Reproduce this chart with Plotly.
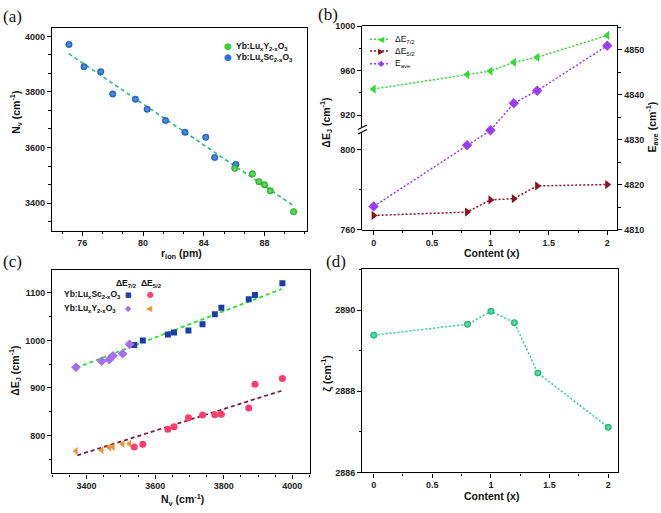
import plotly.graph_objects as go

W, H = 661, 513
def px(x): return x / W
def py(y): return 1 - y / H

# ---------------- data ----------------
# (a) Nv vs ionic radius
r_sc = [75.12, 76.11, 77.21, 78.0, 79.5, 80.27, 81.48, 82.76, 84.13, 84.72, 86.11]
nv_sc = [3971, 3891, 3873, 3793, 3774, 3738, 3697, 3655, 3637, 3564, 3539]
r_y = [89.92, 88.38, 88.0, 87.63, 87.21, 86.04]
nv_y = [3369, 3444, 3466, 3477, 3505, 3525]
fit_a_x = [75.1, 89.9]
fit_a_y = [3938, 3391]

# (b)/(d) vs content
content = [0, 0.8, 1.0, 1.2, 1.4, 2.0]
de72_y = [943.5, 956.5, 959.7, 967.6, 972.1, 991.8]
de52_y = [767.2, 768.9, 775.0, 775.6, 782.0, 782.7]
eave = [4815.2, 4828.8, 4832.1, 4838.1, 4840.9, 4850.9]
zeta = [2889.38, 2889.65, 2889.97, 2889.69, 2888.45, 2887.11]

# (c) ΔE vs Nv for Sc series (Nv ascending)
nv_sc_c = [3539, 3564, 3637, 3655, 3697, 3738, 3774, 3793, 3873, 3891, 3971]
de72_sc = [990.6, 1000.2, 1012.6, 1016.7, 1020.9, 1033.9, 1055.3, 1069.0, 1086.9, 1095.9, 1120.6]
de52_sc = [775.8, 781.4, 812.9, 818.5, 837.1, 843.3, 843.9, 844.7, 857.7, 907.9, 919.7]
fit72_x = [3370, 3969]
fit72_y = [942.5, 1108.5]
fit52_x = [3373, 3969]
fit52_y = [758.3, 894.3]

# ---------------- colours ----------------
C_GREEN_BALL = "#36d236"
C_BLUE_BALL = "#2d74d6"
C_FIT_A = "#2cc07c"
C_G = "#2fdc2f"
C_R = "#8b1020"
C_P = "#9a3cf2"
C_SQ = "#1b3fa6"
C_CIR = "#ff3d6e"
C_DIA = "#a76ef0"
C_TRI = "#e8983a"
C_FIT52 = "#7a1e4a"
C_TEAL = "#2ccf8e"

fig = go.Figure()

# ---- (a)
fig.add_trace(go.Scatter(x=fit_a_x, y=fit_a_y, mode="lines", xaxis="x", yaxis="y",
                         line=dict(color=C_FIT_A, width=1.6, dash="4px,3px"), showlegend=False))
fig.add_trace(go.Scatter(x=r_sc, y=nv_sc, mode="markers", xaxis="x", yaxis="y",
                         marker=dict(size=6.5, color="#1f5fc0", line=dict(width=0.4, color="#1a4a9a"),
                                     gradient=dict(type="radial", color="#5a9cf0")), showlegend=False))
fig.add_trace(go.Scatter(x=r_y, y=nv_y, mode="markers", xaxis="x", yaxis="y",
                         marker=dict(size=6.5, color="#27b827", line=dict(width=0.4, color="#1f8f1f"),
                                     gradient=dict(type="radial", color="#6fe86f")), showlegend=False))

# ---- (b)
fig.add_trace(go.Scatter(x=content, y=de72_y, mode="lines+markers", xaxis="x2", yaxis="y3",
                         line=dict(color=C_G, width=1.5, dash="2px,2px"),
                         marker=dict(symbol="triangle-left", size=8, color=C_G), showlegend=False))
fig.add_trace(go.Scatter(x=content, y=de52_y, mode="lines+markers", xaxis="x2", yaxis="y2",
                         line=dict(color=C_R, width=1.5, dash="2px,2px"),
                         marker=dict(symbol="triangle-right", size=8, color=C_R), showlegend=False))
fig.add_trace(go.Scatter(x=content, y=eave, mode="lines+markers", xaxis="x2", yaxis="y4",
                         line=dict(color=C_P, width=1.5, dash="2px,2px"),
                         marker=dict(symbol="diamond", size=8, color=C_P), showlegend=False))

# ---- (c)
fig.add_trace(go.Scatter(x=fit72_x, y=fit72_y, mode="lines", xaxis="x3", yaxis="y5",
                         line=dict(color=C_G, width=1.8, dash="4px,3px"), showlegend=False))
fig.add_trace(go.Scatter(x=fit52_x, y=fit52_y, mode="lines", xaxis="x3", yaxis="y5",
                         line=dict(color=C_FIT52, width=1.8, dash="4px,3px"), showlegend=False))
fig.add_trace(go.Scatter(x=nv_sc_c, y=de72_sc, mode="markers", xaxis="x3", yaxis="y5",
                         marker=dict(symbol="square", size=6, color=C_SQ), showlegend=False))
fig.add_trace(go.Scatter(x=nv_sc_c, y=de52_sc, mode="markers", xaxis="x3", yaxis="y5",
                         marker=dict(symbol="circle", size=7, color=C_CIR), showlegend=False))
fig.add_trace(go.Scatter(x=nv_y, y=de72_y, mode="markers", xaxis="x3", yaxis="y5",
                         marker=dict(symbol="diamond", size=7.5, color=C_DIA), showlegend=False))
fig.add_trace(go.Scatter(x=nv_y, y=de52_y, mode="markers", xaxis="x3", yaxis="y5",
                         marker=dict(symbol="triangle-left", size=7, color=C_TRI), showlegend=False))

# ---- (d)
fig.add_trace(go.Scatter(x=content, y=zeta, mode="lines+markers", xaxis="x4", yaxis="y6",
                         line=dict(color=C_TEAL, width=1.5, dash="2px,2px"),
                         marker=dict(size=6.5, color="#1fb878", line=dict(width=0.4, color="#1a9a66"),
                                     gradient=dict(type="radial", color="#6ee8b8")), showlegend=False))

TF = dict(family="Arial", size=9, color="#222", weight="bold")
def ax(**kw):
    d = dict(showline=True, linecolor="black", linewidth=1.3, ticks="outside", ticklen=4,
             tickwidth=1, tickcolor="black", showgrid=False, zeroline=False, tickfont=TF,
             tickmode="linear")
    d.update(kw)
    return d
def mn(t0, dt):
    return dict(ticks="outside", ticklen=2.5, tickwidth=1, tickcolor="black", tick0=t0, dtick=dt, showgrid=False)

fig.update_layout(
    width=W, height=H, margin=dict(l=0, r=0, t=0, b=0),
    paper_bgcolor="white", plot_bgcolor="rgba(0,0,0,0)", showlegend=False,
    xaxis=ax(domain=[px(52), px(307)], anchor="y", range=[74, 90.8], mirror=True,
             tick0=76, dtick=4, minor=mn(76, 4/3)),
    yaxis=ax(domain=[py(230), py(23)], anchor="x", range=[3301, 4032], mirror=True,
             tick0=3400, dtick=200, minor=mn(3400, 200/3)),
    xaxis2=ax(domain=[px(362.3), px(617.3)], anchor="y4", range=[-0.097, 2.086], mirror=True,
              tick0=0, dtick=0.5, minor=mn(0, 0.25)),
    yaxis2=ax(domain=[py(229.3), py(127.5)], anchor="x2", range=[760, 810],
              tick0=760, dtick=40, minor=mn(760, 20)),
    yaxis3=ax(domain=[py(127.5), py(21.7)], anchor="x2", range=[906.6, 1000],
              tick0=920, dtick=40, minor=mn(920, 20)),
    yaxis4=ax(domain=[py(229.3), py(21.7)], anchor="x2", side="right", range=[4810, 4855.2],
              tick0=4810, dtick=10, minor=mn(4810, 5)),
    xaxis3=ax(domain=[px(52.3), px(310)], anchor="y5", range=[3300, 4051.5], mirror=True,
              tick0=3400, dtick=200, minor=mn(3400, 50)),
    yaxis5=ax(domain=[py(477.7), py(270)], anchor="x3", range=[720.2, 1148.9], mirror=True,
              tick0=800, dtick=100, minor=mn(800, 50)),
    xaxis4=ax(domain=[px(362.3), px(618.3)], anchor="y6", range=[-0.097, 2.086], mirror=True,
              tick0=0, dtick=0.5, minor=mn(0, 0.25)),
    yaxis6=ax(domain=[py(476.7), py(269.3)], anchor="x4", range=[2886, 2891.01], mirror=True,
              tick0=2886, dtick=2, minor=mn(2886, 1)),
)

ann = []
TITLE = dict(family="Arial", size=10.5, color="#111", weight="bold")
LEG = dict(family="Arial", size=8.5, color="#111", weight="bold")
def A(x, y, text, font, xanchor="center", yanchor="middle", angle=0):
    ann.append(dict(x=px(x), y=py(y), xref="paper", yref="paper", text=text, showarrow=False,
                    font=font, xanchor=xanchor, yanchor=yanchor, textangle=angle))

PL = dict(family="Liberation Serif", size=17, color="#111")
A(1, 12, "(a)", PL, xanchor="left")
A(316, 10, "(b)", PL, xanchor="left")
A(1, 262, "(c)", PL, xanchor="left")
A(324, 262, "(d)", PL, xanchor="left")

A(16, 110, "N<sub>v</sub> (cm<sup>-1</sup>)", TITLE, angle=-90)
A(181, 254, "r<sub>ion</sub> (pm)", TITLE)
A(326, 120, "ΔE<sub>J</sub> (cm<sup>-1</sup>)", TITLE, angle=-90)
A(652, 125, "E<sub>ave</sub> (cm<sup>-1</sup>)", TITLE, angle=-90)
A(491, 253, "Content (x)", TITLE)
A(15, 373, "ΔE<sub>J</sub> (cm<sup>-1</sup>)", TITLE, angle=-90)
A(182, 505, "N<sub>v</sub> (cm<sup>-1</sup>)", TITLE)
A(326, 376, "ζ (cm<sup>-1</sup>)", TITLE, angle=-90)
A(491, 501, "Content (x)", TITLE)

GL = lambda c, s=9: dict(family="DejaVu Sans", size=s, color=c)
# legend (a)
A(227.7, 42.3, "●", GL(C_GREEN_BALL, 9))
A(234, 42.3, "Yb:Lu<sub>x</sub>Y<sub>2-x</sub>O<sub>3</sub>", LEG, xanchor="left")
A(227.7, 53.3, "●", GL(C_BLUE_BALL, 9))
A(234, 53.3, "Yb:Lu<sub>x</sub>Sc<sub>2-x</sub>O<sub>3</sub>", LEG, xanchor="left")

# legend (b)
shapes = []
for yy, c, g, t in [(35, C_G, "◀", "ΔE<sub>7/2</sub>"), (47, C_R, "▶", "ΔE<sub>5/2</sub>"),
                    (60, C_P, "◆", "E<sub>ave</sub>")]:
    shapes.append(dict(type="line", xref="paper", yref="paper", x0=px(370), x1=px(390), y0=py(yy), y1=py(yy),
                       line=dict(color=c, width=1.5, dash="2px,2px")))
    A(381.5, yy, g, GL(c, 8))
    A(393, yy, t, dict(family="Arial", size=8.5, color="#111"), xanchor="left")

# legend (c)
A(126.7, 284, "ΔE<sub>7/2</sub>", LEG)
A(151.7, 284, "ΔE<sub>5/2</sub>", LEG)
A(61.7, 295.7, "Yb:Lu<sub>x</sub>Sc<sub>2-x</sub>O<sub>3</sub>", LEG, xanchor="left")
A(61.7, 309.7, "Yb:Lu<sub>x</sub>Y<sub>2-x</sub>O<sub>3</sub>", LEG, xanchor="left")
A(128.7, 295.7, "■", GL(C_SQ, 7))
A(150, 295.7, "●", GL(C_CIR, 8))
A(128, 309.7, "◆", GL(C_DIA, 8))
A(149, 309.7, "◀", GL(C_TRI, 8))

# axis break marks on (b)
shapes.append(dict(type="line", xref="paper", yref="paper", x0=px(362.3), x1=px(362.3), y0=py(125), y1=py(130),
                   line=dict(color="white", width=3)))
shapes.append(dict(type="line", xref="paper", yref="paper", x0=px(358), x1=px(367), y0=py(127), y1=py(122.5),
                   line=dict(color="black", width=1.1)))
shapes.append(dict(type="line", xref="paper", yref="paper", x0=px(358), x1=px(367), y0=py(131.5), y1=py(127),
                   line=dict(color="black", width=1.1)))

fig.update_layout(annotations=ann, shapes=shapes)
fig.write_html("out.html")
